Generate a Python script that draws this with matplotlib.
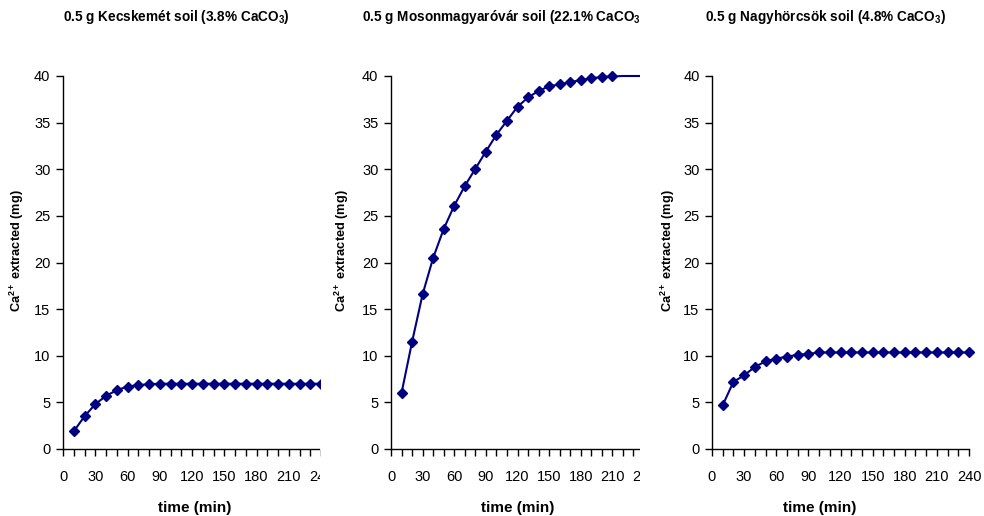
import matplotlib
matplotlib.use("Agg")
import matplotlib.pyplot as plt
from matplotlib.transforms import Bbox, TransformedBbox
from matplotlib.ticker import MultipleLocator

plt.rcParams["font.family"] = ["Liberation Sans", "DejaVu Sans"]
plt.rcParams["mathtext.fontset"] = "custom"
plt.rcParams["mathtext.rm"] = "Liberation Sans"
plt.rcParams["mathtext.it"] = "Liberation Sans:italic"
plt.rcParams["mathtext.bf"] = "Liberation Sans:bold"

W, H = 984, 516

# --- dados ---
time_min = [10, 20, 30, 40, 50, 60, 70, 80, 90, 100, 110, 120,
            130, 140, 150, 160, 170, 180, 190, 200, 210, 220, 230, 240]

kecskemet = [1.9, 3.5, 4.8, 5.7, 6.3, 6.7, 6.85, 6.95, 7.0, 7.0, 7.0, 7.0,
             7.0, 7.0, 7.0, 7.0, 7.0, 7.0, 7.0, 7.0, 7.0, 7.0, 7.0, 7.0]

mosonmagyarovar = [6.0, 11.5, 16.6, 20.5, 23.6, 26.1, 28.2, 30.05, 31.9, 33.7, 35.2, 36.7,
                   37.7, 38.4, 38.9, 39.1, 39.35, 39.55, 39.75, 39.9, 39.95, 40.0, 40.0, 40.0]

nagyhorcsok = [4.7, 7.2, 7.9, 8.8, 9.4, 9.7, 9.9, 10.1, 10.2, 10.35, 10.35, 10.35,
               10.35, 10.35, 10.35, 10.35, 10.35, 10.35, 10.35, 10.35, 10.35, 10.35, 10.35, 10.35]

titles = [
    r"0.5 g Kecskemét soil (3.8% CaCO$_\mathbf{3}$)",
    r"0.5 g Mosonmagyaróvár soil (22.1% CaCO$_\mathbf{3}$)",
    r"0.5 g Nagyhörcsök soil (4.8% CaCO$_\mathbf{3}$)",
]
series = [kecskemet, mosonmagyarovar, nagyhorcsok]
n_markers = [24, 21, 24]  # o painel do meio não tem marcadores depois de 210 min

# layout em pixels: (painel x0, painel x1, eixo x0, eixo x1, título x, ylabel x, xlabel x)
PANELS = [
    (0, 320, 63, 321, 63, 17, 195),
    (320, 640, 391, 644, 362, 342, 518),
    (640, 984, 712, 969, 705, 668, 820),
]
AX_TOP, AX_BOTTOM = 76, 449
NAVY = "#000080"

fig = plt.figure(figsize=(W / 100, H / 100), dpi=100)
fig.patch.set_facecolor("white")

axes, boxes = [], []
for (px0, px1, ax0, ax1, tx, yx, xx), title, vals, nm in zip(PANELS, titles, series, n_markers):
    ax = fig.add_axes([ax0 / W, 1 - AX_BOTTOM / H, (ax1 - ax0) / W, (AX_BOTTOM - AX_TOP) / H])
    box = TransformedBbox(Bbox.from_extents(px0 / W, 0, px1 / W, 1), fig.transFigure)

    line, = ax.plot(time_min, vals, "-", color=NAVY, lw=1.5, marker="D", ms=4.6,
                    mfc=NAVY, mec=NAVY, markevery=slice(0, nm))
    line.set_clip_box(box)

    ax.set_xlim(0, 240)
    ax.set_ylim(0, 40)
    ax.xaxis.set_major_locator(MultipleLocator(30))
    ax.xaxis.set_minor_locator(MultipleLocator(10))
    ax.yaxis.set_major_locator(MultipleLocator(5))
    ax.tick_params(axis="both", which="both", direction="out", length=5, width=1, color="black")
    ax.tick_params(axis="x", which="major", labelsize=10.5, pad=10)
    ax.tick_params(axis="y", which="major", labelsize=10.5, pad=4)
    for s in ("top", "right"):
        ax.spines[s].set_visible(False)
    for s in ("left", "bottom"):
        ax.spines[s].set_linewidth(1)
        ax.spines[s].set_color("black")
    ax.patch.set_visible(False)

    t = fig.text(tx / W, 1 - 17 / H, title, ha="left", va="center",
                 fontsize=9.8, fontweight="bold")
    t.set_clip_box(box)
    t.set_clip_on(True)
    fig.text(yx / W, 1 - 251 / H, r"Ca$^{\mathbf{2+}}$ extracted (mg)", rotation=90,
             ha="center", va="center", fontsize=9.2, fontweight="bold")
    fig.text(xx / W, 1 - 508 / H, "time (min)", ha="center", va="center",
             fontsize=11, fontweight="bold")
    axes.append(ax)
    boxes.append(box)

# corta rótulos e marcas no limite de cada painel (como no original)
fig.canvas.draw()
for ax, box in zip(axes, boxes):
    ticks = ax.xaxis.get_major_ticks() + ax.xaxis.get_minor_ticks()
    for tk in ticks:
        for a in (tk.label1, tk.tick1line):
            a.set_clip_box(box)
            a.set_clip_on(True)
    for s in ax.spines.values():
        s.set_clip_box(box)
        s.set_clip_on(True)

fig.savefig("out.png", dpi=100)
